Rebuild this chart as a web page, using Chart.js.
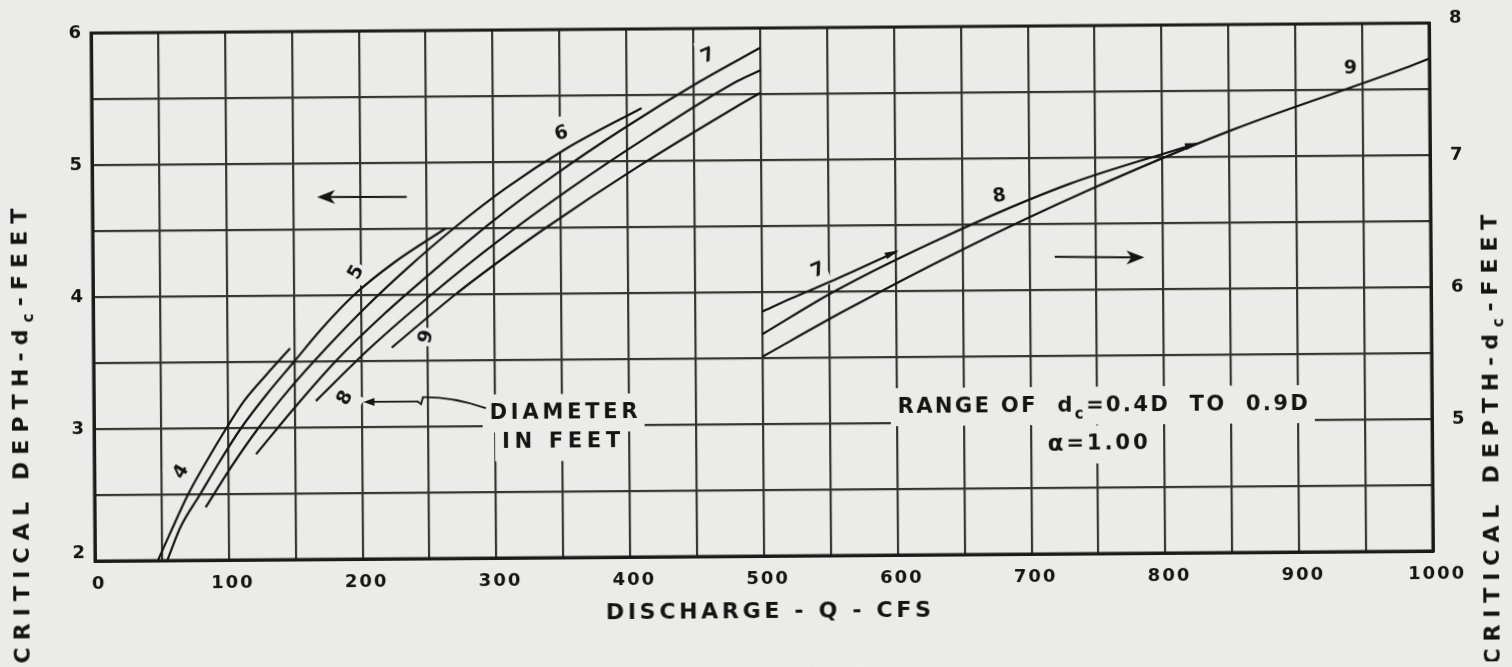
<!DOCTYPE html>
<html>
<head>
<meta charset="utf-8">
<script src="https://cdn.jsdelivr.net/npm/chart.js@4/dist/chart.umd.min.js"></script>
<style>
  html, body { margin: 0; padding: 0; background: #ebebea; overflow: hidden; }
  #wrap { position: relative; width: 1512px; height: 667px; }
  canvas { display: block; transform: rotate(-0.43deg); transform-origin: 762px 292px; }
</style>
</head>
<body>
<div id="wrap"><canvas id="chart" width="1512" height="667"></canvas></div>
<script>
// Critical depth dc (ft) against discharge Q (cfs) for circular pipes,
// one curve per diameter D (ft), each spanning dc = 0.4D .. 0.9D.

// Left half, read on the left-hand scale (2 - 6 ft)
const d4Q  = [47, 56, 70, 84, 99, 112, 129, 147];
const d4Dc = [2.0, 2.2, 2.5, 2.75, 3.0, 3.2, 3.4, 3.6];
const d5Q  = [54, 64, 79, 94, 110, 129, 150, 171, 195, 226, 264];
const d5Dc = [2.0, 2.25, 2.5, 2.75, 3.0, 3.25, 3.5, 3.75, 4.0, 4.25, 4.5];
const d6Q  = [83, 102, 123, 147, 174, 203, 235, 270, 309, 355, 411];
const d6Dc = [2.4, 2.7, 3.0, 3.3, 3.6, 3.9, 4.2, 4.5, 4.8, 5.1, 5.4];
const d7Q  = [121, 150, 181, 217, 257, 299, 346, 398, 455, 500];
const d7Dc = [2.8, 3.15, 3.5, 3.85, 4.2, 4.55, 4.9, 5.25, 5.6, 5.85];
const d8Q  = [166, 207, 253, 303, 358, 418, 483, 500];
const d8Dc = [3.2, 3.6, 4.0, 4.4, 4.8, 5.2, 5.6, 5.68];
const d9Q  = [223, 271, 304, 339, 407, 481, 500];
const d9Dc = [3.6, 4.0, 4.25, 4.5, 4.95, 5.4, 5.51];

// Right half, read on the right-hand scale (4 - 8 ft)
const d7bQ  = [500, 522, 557, 601];
const d7bDc = [5.85, 5.95, 6.1, 6.3];
const d8bQ  = [500, 554, 635, 730, 826];
const d8bDc = [5.68, 6.0, 6.4, 6.8, 7.1];
const d9bQ  = [500, 561, 648, 744, 852, 979, 1000];
const d9bDc = [5.51, 5.85, 6.3, 6.75, 7.2, 7.65, 7.73];

// Tick labels
const qTicks     = [0, 100, 200, 300, 400, 500, 600, 700, 800, 900, 1000];
const leftTicks  = [2, 3, 4, 5, 6];
const rightTicks = [5, 6, 7, 8];

const PAPER = '#ebebea';
const INK = '#141414';
const GRID = '#36362f';
const FONT = '"DejaVu Sans", "Liberation Sans", sans-serif';

const pts = (q, d) => q.map((v, i) => ({ x: v, y: d[i] }));
const curve = (q, d, axis) => ({
  data: pts(q, d), yAxisID: axis,
  borderColor: INK, borderWidth: 2.2, pointRadius: 0,
  cubicInterpolationMode: 'monotone', fill: false
});

// ---- text helpers: per-character drawing with letter spacing ----
function measureSegs(ctx, segs) {
  let w = 0, n = 0;
  for (const s of segs) { ctx.font = s.font; for (const ch of s.t) { w += ctx.measureText(ch).width; n++; } }
  return { w, n };
}
function segsWidth(ctx, segs, ls) { const m = measureSegs(ctx, segs); return m.w + ls * (m.n - 1); }
function drawSegs(ctx, segs, x, y, align, ls) {
  const total = segsWidth(ctx, segs, ls);
  let cx = align === 'center' ? x - total / 2 : align === 'right' ? x - total : x;
  ctx.textAlign = 'left';
  ctx.textBaseline = 'middle';
  for (const s of segs) {
    ctx.font = s.font;
    for (const ch of s.t) { ctx.fillText(ch, cx, y + (s.dy || 0)); cx += ctx.measureText(ch).width + ls; }
  }
  return total;
}
const lsFor = (ctx, segs, target) => { const m = measureSegs(ctx, segs); return (target - m.w) / (m.n - 1); };

// In-plot notes, positioned in data units
const curveLabels = [
  { t: '4', x: 65,  y: 2.67, ax: 'y',  rot: -58 },
  { t: '5', x: 197, y: 4.17, ax: 'y',  rot: -60 },
  { t: '6', x: 351, y: 5.21, ax: 'y',  rot: -15 },
  { t: '7', x: 461, y: 5.79, ax: 'y',  rot: -22 },
  { t: '8', x: 188, y: 3.22, ax: 'y',  rot: -60 },
  { t: '9', x: 249, y: 3.68, ax: 'y',  rot: -75 },
  { t: '7', x: 542, y: 6.16, ax: 'y2', rot: -22 },
  { t: '8', x: 678, y: 6.71, ax: 'y2', rot: -8 },
  { t: '9', x: 941, y: 7.66, ax: 'y2', rot: 0 }
];

const bigFont = 'bold 21px ' + FONT;
const subFont = 'bold 15px ' + FONT;
const noteBlocks = [
  { segs: [{ t: 'DIAMETER', font: bigFont }], x: 351, y: 3.095, width: 148 },
  { segs: [{ t: 'IN FEET', font: bigFont }], x: 349, y: 2.875, width: 118 },
  { segs: [{ t: 'RANGE OF  d', font: bigFont }, { t: 'c', font: subFont, dy: 9 }, { t: '=0.4D  TO  0.9D', font: bigFont }], x: 754, y: 3.12, width: 410 },
  { segs: [{ t: 'α', font: 'bold 23px ' + FONT }, { t: '=1.00', font: bigFont }], x: 750, y: 2.826, width: 100 }
];

function notePlacement(ctx, chart, b) {
  const xs = chart.scales.x, ys = chart.scales.y;
  const cx = xs.getPixelForValue(b.x), cy = ys.getPixelForValue(b.y);
  const ls = lsFor(ctx, b.segs, b.width);
  return { cx, cy, ls };
}

const paperPlugin = {
  id: 'paper',
  beforeDraw(chart) {
    const ctx = chart.ctx;
    ctx.save();
    ctx.fillStyle = PAPER;
    ctx.fillRect(0, 0, chart.width, chart.height);
    ctx.restore();
  },
  // clear the grid behind lettering so the words sit on blank paper
  beforeDatasetsDraw(chart) {
    const ctx = chart.ctx;
    ctx.save();
    ctx.fillStyle = PAPER;
    for (const b of noteBlocks) {
      const p = notePlacement(ctx, chart, b);
      ctx.fillRect(p.cx - b.width / 2 - 7, p.cy - 19, b.width + 14, 38);
    }
    for (const l of curveLabels) {
      const x = chart.scales.x.getPixelForValue(l.x), y = chart.scales[l.ax].getPixelForValue(l.y);
      ctx.save();
      ctx.translate(x, y);
      ctx.rotate(l.rot * Math.PI / 180);
      ctx.fillRect(-9, -17, 18, 34);
      ctx.restore();
    }
    ctx.restore();
  },
  afterDraw(chart) {
    const ctx = chart.ctx;
    const a = chart.chartArea;
    const xs = chart.scales.x, yl = chart.scales.y, yr = chart.scales.y2;
    ctx.save();

    // frame
    ctx.strokeStyle = '#1b1b1b';
    ctx.lineWidth = 3;
    ctx.strokeRect(a.left, a.top, a.right - a.left, a.bottom - a.top);

    ctx.fillStyle = INK;
    // x tick labels
    const tickFont = 'bold 18px ' + FONT;
    for (const v of qTicks) {
      const x = xs.getPixelForValue(v) + 3;
      drawSegs(ctx, [{ t: String(v), font: tickFont }], x, a.bottom + 23, 'center', 2);
    }
    // left y tick labels
    for (const v of leftTicks) {
      let y = yl.getPixelForValue(v);
      if (v === 2) y -= 8;
      drawSegs(ctx, [{ t: String(v), font: tickFont }], a.left - 10, y, 'right', 0);
    }
    // right y tick labels
    for (const v of rightTicks) {
      let y = yr.getPixelForValue(v);
      if (v === 8) y -= 5;
      drawSegs(ctx, [{ t: String(v), font: tickFont }], a.right + 20, y, 'left', 0);
    }

    // axis titles
    const tFont = 'bold 22px ' + FONT;
    const tSub = 'bold 15px ' + FONT;
    const xTitle = [{ t: 'DISCHARGE - Q - CFS', font: tFont }];
    drawSegs(ctx, xTitle, xs.getPixelForValue(503), a.bottom + 56, 'center', lsFor(ctx, xTitle, 325));
    const yTitle = [{ t: 'CRITICAL DEPTH-d', font: tFont }, { t: 'c', font: tSub, dy: 8 }, { t: '-FEET', font: tFont }];
    ctx.save();
    ctx.translate(21, yl.getPixelForValue(2.95));
    ctx.rotate(-Math.PI / 2);
    drawSegs(ctx, yTitle, 0, 0, 'center', lsFor(ctx, yTitle, 455));
    ctx.restore();
    ctx.save();
    ctx.translate(1491, yl.getPixelForValue(2.84));
    ctx.rotate(-Math.PI / 2);
    drawSegs(ctx, yTitle, 0, 0, 'center', lsFor(ctx, yTitle, 450));
    ctx.restore();

    // curve labels (diameter in feet)
    for (const l of curveLabels) {
      const x = xs.getPixelForValue(l.x), y = chart.scales[l.ax].getPixelForValue(l.y);
      ctx.save();
      ctx.translate(x, y);
      ctx.rotate(l.rot * Math.PI / 180);
      drawSegs(ctx, [{ t: l.t, font: 'bold 19px ' + FONT }], 0, 0, 'center', 0);
      ctx.restore();
    }

    // lettered notes
    for (const b of noteBlocks) {
      const p = notePlacement(ctx, chart, b);
      drawSegs(ctx, b.segs, p.cx, p.cy, 'center', p.ls);
    }

    // leader from DIAMETER note to the D = 8 curve
    const P = (x, y) => [xs.getPixelForValue(x), yl.getPixelForValue(y)];
    ctx.strokeStyle = INK;
    ctx.lineWidth = 1.8;
    ctx.beginPath();
    let p = P(293, 3.135); ctx.moveTo(p[0], p[1]);
    let c = P(268, 3.225); let e = P(246, 3.222);
    ctx.quadraticCurveTo(c[0], c[1], e[0], e[1]);
    p = P(244.6, 3.17); ctx.lineTo(p[0], p[1]);
    p = P(242, 3.19); ctx.lineTo(p[0], p[1]);
    p = P(207, 3.19); ctx.lineTo(p[0], p[1]);
    ctx.stroke();
    const tip = P(203, 3.19);
    ctx.beginPath();
    ctx.moveTo(tip[0] - 2, tip[1]);
    ctx.lineTo(tip[0] + 9, tip[1] - 4);
    ctx.lineTo(tip[0] + 9, tip[1] + 4);
    ctx.closePath();
    ctx.fill();

    // direction arrows pointing to the scale each half is read on
    const arrow = (x0, y0, x1, y1) => {
      const a0 = P(x0, y0), a1 = P(x1, y1);
      const dir = Math.sign(a1[0] - a0[0]);
      ctx.lineWidth = 2;
      ctx.beginPath();
      ctx.moveTo(a0[0], a0[1]);
      ctx.lineTo(a1[0] - dir * 8, a1[1]);
      ctx.stroke();
      ctx.beginPath();
      ctx.moveTo(a1[0], a1[1]);
      ctx.lineTo(a1[0] - dir * 18, a1[1] - 7);
      ctx.lineTo(a1[0] - dir * 13, a1[1]);
      ctx.lineTo(a1[0] - dir * 18, a1[1] + 7);
      ctx.closePath();
      ctx.fill();
    };
    arrow(235, 4.74, 168, 4.745);
    arrow(719, 4.25, 786, 4.24);

    // small heads where the D = 7 and D = 8 curves stop on the right half
    const head = (xa, ya, xb, yb) => {
      const h0 = [xs.getPixelForValue(xa), yr.getPixelForValue(ya)];
      const h1 = [xs.getPixelForValue(xb), yr.getPixelForValue(yb)];
      const ang = Math.atan2(h1[1] - h0[1], h1[0] - h0[0]);
      ctx.save();
      ctx.translate(h1[0], h1[1]);
      ctx.rotate(ang);
      ctx.beginPath();
      ctx.moveTo(2, 0);
      ctx.lineTo(-12, -4);
      ctx.lineTo(-12, 3);
      ctx.closePath();
      ctx.fill();
      ctx.restore();
    };
    head(d7bQ[2], d7bDc[2], d7bQ[3], d7bDc[3]);
    head(d8bQ[3], d8bDc[3], d8bQ[4], d8bDc[4]);

    ctx.restore();
  }
};

new Chart(document.getElementById('chart'), {
  type: 'line',
  data: {
    datasets: [
      curve(d4Q, d4Dc, 'y'), curve(d5Q, d5Dc, 'y'), curve(d6Q, d6Dc, 'y'),
      curve(d7Q, d7Dc, 'y'), curve(d8Q, d8Dc, 'y'), curve(d9Q, d9Dc, 'y'),
      curve(d7bQ, d7bDc, 'y2'), curve(d8bQ, d8bDc, 'y2'), curve(d9bQ, d9bDc, 'y2')
    ]
  },
  options: {
    responsive: false,
    animation: false,
    devicePixelRatio: 1,
    layout: { padding: { top: 28, left: 0, right: 0, bottom: 0 } },
    plugins: { legend: { display: false }, tooltip: { enabled: false } },
    scales: {
      x: {
        type: 'linear', min: 0, max: 1000,
        ticks: { stepSize: 50, display: false },
        grid: { color: GRID, lineWidth: 2.2, drawTicks: false },
        border: { display: true, color: '#1b1b1b', width: 3 },
        afterFit: s => { s.height = 111; }
      },
      y: {
        position: 'left', min: 2, max: 6,
        ticks: { stepSize: 0.5, display: false },
        grid: { color: GRID, lineWidth: 2.2, drawTicks: false },
        border: { display: true, color: '#1b1b1b', width: 3 },
        afterFit: s => { s.width = 93; }
      },
      y2: {
        position: 'right', min: 4, max: 8,
        ticks: { stepSize: 1, display: false },
        grid: { display: false, drawTicks: false },
        border: { display: true, color: '#1b1b1b', width: 3 },
        afterFit: s => { s.width = 81; }
      }
    }
  },
  plugins: [paperPlugin]
});
</script>
</body>
</html>
